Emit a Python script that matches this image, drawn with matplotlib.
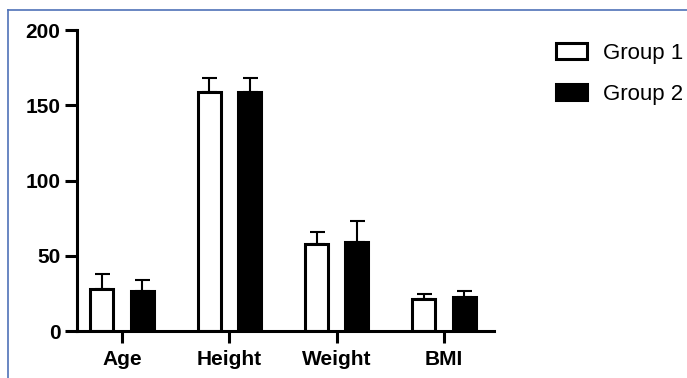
import numpy as np
import matplotlib
matplotlib.use("Agg")
import matplotlib.pyplot as plt
from matplotlib.lines import Line2D

#%% data: mean and SD per measure
measures = ["Age", "Height", "Weight", "BMI"]
group1_mean = [28.0, 159.0, 57.7, 21.4]
group1_sd = [9.7, 8.9, 8.4, 2.9]
group2_mean = [26.7, 158.7, 59.0, 22.3]
group2_sd = [7.2, 9.2, 13.8, 4.3]
yticks = [0, 50, 100, 150, 200]

#%% figure setting
plt.rcParams['font.family'] = ['Liberation Sans', 'DejaVu Sans']
fig = plt.figure(figsize=(6.87, 3.78), dpi=100)
ax = fig.add_axes([0.1114, 0.1243, 0.6077, 0.7963])

x = np.arange(len(measures))
off = 0.188
w = 0.215
lw = 2.2

ax.bar(x - off, group1_mean, w, color='white', edgecolor='black',
       linewidth=lw, label='Group 1', zorder=2)
ax.bar(x + off, group2_mean, w, color='black', edgecolor='black',
       linewidth=lw, label='Group 2', zorder=2)

# upper error bars only
zeros = np.zeros(len(measures))
ax.errorbar(x - off, group1_mean, yerr=[zeros, group1_sd], fmt='none',
            ecolor='black', elinewidth=1.5, capsize=5.4, capthick=1.5, zorder=1)
ax.errorbar(x + off, group2_mean, yerr=[zeros, group2_sd], fmt='none',
            ecolor='black', elinewidth=1.5, capsize=5.4, capthick=1.5, zorder=1)

#%% axes
ax.set_xlim(-0.424, 3.466)
ax.set_ylim(0, 200)
ax.set_yticks(yticks)
ax.set_xticks(x)
ax.set_xticklabels(measures)
for s in ['top', 'right']:
    ax.spines[s].set_visible(False)
for s in ['left', 'bottom']:
    ax.spines[s].set_linewidth(lw)
ax.tick_params(axis='both', direction='out', length=8.5, width=lw,
               labelsize=15)
ax.tick_params(axis='y', pad=3)
ax.tick_params(axis='x', pad=5)
for lab in ax.get_xticklabels() + ax.get_yticklabels():
    lab.set_fontweight('bold')

#%% legend
fs = 16
px = fs * 100 / 72
ax.legend(loc='upper left', bbox_to_anchor=(556 / 687, 1 - 43 / 378),
          bbox_transform=fig.transFigure, frameon=False, fontsize=fs,
          borderpad=0, borderaxespad=0, handlelength=31 / px,
          handleheight=16 / px, handletextpad=16 / px, labelspacing=0.88)

#%% blue frame around the picture
frame = '#4f72b8'
fig.add_artist(Line2D([8 / 687, 1], [1 - 10 / 378, 1 - 10 / 378],
                      transform=fig.transFigure, color=frame, lw=1.2))
fig.add_artist(Line2D([8 / 687, 8 / 687], [0, 1 - 10 / 378],
                      transform=fig.transFigure, color=frame, lw=1.2))

fig.savefig('out.png', dpi=100)
